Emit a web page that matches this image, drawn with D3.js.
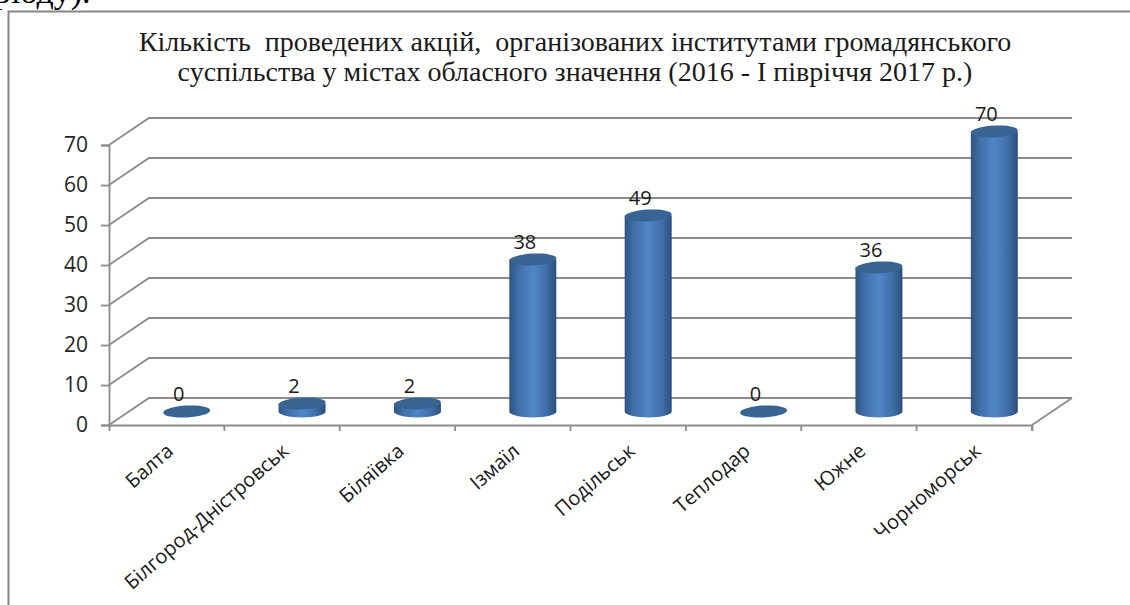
<!DOCTYPE html>
<html>
<head>
<meta charset="utf-8">
<script src="https://cdn.jsdelivr.net/npm/d3@7"></script>
<style>
  html, body { margin: 0; padding: 0; background: #fff; overflow: hidden; }
  svg { display: block; }
  .title { white-space: pre; }
</style>
</head>
<body>
<div id="plot"></div>
<script>
// Chart data
var cities = ["Балта", "Білгород-Дністровськ", "Біляївка", "Ізмаїл", "Подільськ", "Теплодар", "Южне", "Чорноморськ"];
var actions = [0, 2, 2, 38, 49, 0, 36, 70];
var yTicks = [0, 10, 20, 30, 40, 50, 60, 70];
var titleLines = [
  "Кількість  проведених акцій,  організованих інститутами громадянського",
  "суспільства у містах обласного значення (2016 - І півріччя 2017 р.)"
];
var cutOffText = "ріоду).";

var svgWidth = 1130;
var svgHeight = 605;
var labelFont = "'Open Sans', 'Noto Sans', sans-serif";
var serifFont = "'Liberation Serif', serif";

var svg = d3.select("#plot")
  .append("svg")
  .attr("width", svgWidth)
  .attr("height", svgHeight);

// Depth of the 3D floor, back wall is shifted by this much
var depthX = 40;
var depthY = -27;

var x = d3.scaleBand().domain(cities).range([109, 1032]);
var y = d3.scaleLinear().domain([0, 70]).range([425, 145]);

// Left to right gradient for the cylinders
var defs = svg.append("defs");
var grad = defs.append("linearGradient").attr("id", "cyl");
[[0, "#2f5382"], [0.18, "#3f6da6"], [0.5, "#5186c8"], [0.8, "#3f6da6"], [1, "#2c4e7c"]].forEach(function(s) {
  grad.append("stop").attr("offset", s[0]).attr("stop-color", s[1]);
});

// Frame around the chart, and the piece of page text above it
svg.append("path")
  .attr("d", "M8.5,605V11.5H1130")
  .attr("fill", "none")
  .attr("stroke", "#868686")
  .attr("stroke-width", 2);

svg.append("text")
  .attr("x", -6)
  .attr("y", 3)
  .attr("font-family", serifFont)
  .attr("font-size", 34)
  .attr("fill", "#000")
  .text(cutOffText);

svg.selectAll(".title")
  .data(titleLines)
  .enter()
  .append("text")
  .attr("class", "title")
  .attr("x", 575)
  .attr("y", (d, i) => 51 + i * 29.5)
  .attr("text-anchor", "middle")
  .attr("font-family", serifFont)
  .attr("font-size", 28)
  .attr("fill", "#1a1a1a")
  .text(d => d);

// Back wall gridlines with their slanted part on the side wall
svg.selectAll(".grid")
  .data(yTicks)
  .enter()
  .append("polyline")
  .attr("class", "grid")
  .attr("points", d => [
    [x.range()[0], y(d)],
    [x.range()[0] + depthX, y(d) + depthY],
    [x.range()[1] + depthX, y(d) + depthY]
  ].join(" "))
  .attr("fill", "none")
  .attr("stroke", "#8c8c8c")
  .attr("stroke-width", 1.8);

// Floor edge on the right
svg.append("line")
  .attr("x1", x.range()[1])
  .attr("y1", y(0))
  .attr("x2", x.range()[1] + depthX)
  .attr("y2", y(0) + depthY)
  .attr("stroke", "#8c8c8c")
  .attr("stroke-width", 1.8);

// Axes
var leftAxis = d3.axisLeft(y).tickValues(yTicks).tickSize(8).tickPadding(13);
var bottomAxis = d3.axisBottom(x).tickSize(6).tickFormat("");

var yAxisGroup = svg.append("g")
  .attr("transform", `translate(${x.range()[0]}, 0)`)
  .call(leftAxis);

var xAxisGroup = svg.append("g")
  .attr("transform", `translate(0, ${y(0)})`)
  .call(bottomAxis);

// Band axis ticks sit in the middle of the band, move them to the band edges
xAxisGroup.selectAll(".tick")
  .attr("transform", d => `translate(${x(d) + x.bandwidth()},0)`);

svg.selectAll(".domain, .tick line")
  .attr("stroke", "#8c8c8c")
  .attr("stroke-width", 1.8);

yAxisGroup.selectAll("text")
  .attr("font-family", labelFont)
  .attr("font-size", 21)
  .attr("fill", "#262626");

// Rotated city labels
svg.selectAll(".city")
  .data(cities)
  .enter()
  .append("text")
  .attr("class", "city")
  .attr("transform", d => `translate(${x(d) + x.bandwidth() / 2 + 8}, ${y(0) + 28}) rotate(-41)`)
  .attr("text-anchor", "end")
  .attr("font-family", labelFont)
  .attr("font-size", 20)
  .attr("fill", "#1a1a1a")
  .text(d => d);

// Cylinders
var barWidth = 47;
var rx = barWidth / 2;
var ry = 6;
var shiftX = depthX / 2;
var shiftY = depthY / 2;

var bars = svg.selectAll(".bar")
  .data(cities.map((c, i) => ({ city: c, value: actions[i] })))
  .enter()
  .append("g")
  .attr("class", "bar")
  .attr("transform", d => `translate(${x(d.city) + x.bandwidth() / 2 + shiftX}, 0)`);

bars.filter(d => d.value > 0)
  .append("path")
  .attr("d", d => {
    var top = y(d.value) + shiftY;
    var bottom = y(0) + shiftY;
    return `M${-rx},${top}L${-rx},${bottom}A${rx},${ry} 0 0 0 ${rx},${bottom}L${rx},${top}Z`;
  })
  .attr("fill", "url(#cyl)");

bars.append("ellipse")
  .attr("cy", d => y(d.value) + shiftY)
  .attr("rx", rx)
  .attr("ry", ry)
  .attr("transform", d => `rotate(-3, 0, ${y(d.value) + shiftY})`)
  .attr("fill", "#386494");

// Value labels
bars.append("text")
  .attr("y", d => y(d.value) + shiftY - 11)
  .attr("x", -8)
  .attr("text-anchor", "middle")
  .attr("font-family", labelFont)
  .attr("font-size", 20)
  .attr("fill", "#1a1a1a")
  .text(d => d.value);
</script>
</body>
</html>
